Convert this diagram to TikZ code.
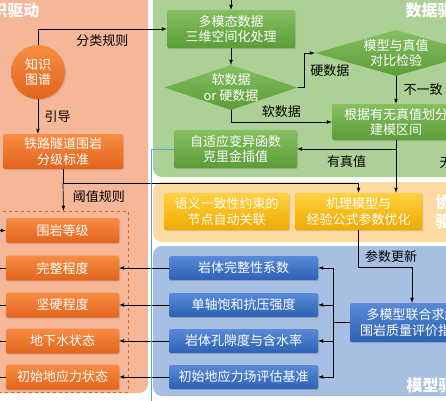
\documentclass[tikz,border=0pt]{standalone}
\usepackage{fontspec}
\setmainfont{Noto Sans CJK SC}
\usetikzlibrary{shapes.geometric,shadows}
\definecolor{kpanel}{RGB}{246,182,152}
\definecolor{dpanel}{RGB}{172,208,150}
\definecolor{cpanel}{RGB}{252,218,160}
\definecolor{mpanel}{RGB}{166,191,226}
\definecolor{otop}{RGB}{248,140,68}
\definecolor{obot}{RGB}{226,100,28}
\definecolor{gtop}{RGB}{132,192,96}
\definecolor{gbot}{RGB}{92,156,56}
\definecolor{ytop}{RGB}{255,208,64}
\definecolor{ybot}{RGB}{240,170,0}
\definecolor{btop}{RGB}{88,138,216}
\definecolor{bbot}{RGB}{46,96,180}
\definecolor{cyanln}{RGB}{75,172,210}
\begin{document}
\begin{tikzpicture}[x=1pt,y=-1pt,font=\fontsize{13}{15.5}\selectfont]
  \tikzstyle{panel}=[rounded corners=9pt]
  \tikzstyle{title}=[text=white,font=\fontsize{16}{19}\selectfont\bfseries,align=left]
  \tikzstyle{box}=[rectangle,rounded corners=1.5pt,align=center,inner sep=0pt,text=white,
    drop shadow={opacity=0.3,shadow xshift=1.2pt,shadow yshift=-1.2pt}]
  \tikzstyle{obox}=[box,top color=otop,bottom color=obot]
  \tikzstyle{gbox}=[box,top color=gtop,bottom color=gbot]
  \tikzstyle{ybox}=[box,top color=ytop,bottom color=ybot]
  \tikzstyle{bbox}=[box,top color=btop,bottom color=bbot]
  \tikzstyle{gdia}=[diamond,align=center,inner sep=-3pt,text=white,top color=gtop,bottom color=gbot]
  \tikzstyle{arr}=[-latex,line width=0.7pt]
  \tikzstyle{ln}=[line width=0.7pt]
  \useasboundingbox (0,0) rectangle (446,400);
  \clip (0,0) rectangle (446,400);
  \fill[white] (0,0) rectangle (446,400);
  \fill[panel,kpanel] (-20,-20) rectangle (148,393);
  \fill[panel,dpanel] (153,-8) rectangle (480,177);
  \fill[panel,cpanel] (153,182) rectangle (480,242);
  \fill[panel,mpanel] (153,246) rectangle (480,396);
  \node[title,anchor=east] (tkn) at (43,10) {知识驱动};
  \node[title,anchor=west] (tdt) at (402,10) {数据驱动};
  \node[title,anchor=west] (tco) at (432,212) {协同\\驱动};
  \node[title,anchor=west] (tmd) at (403,385) {模型驱动};

  \node[circle,minimum size=54pt,inner sep=0pt,align=center,text=white,top color=otop,bottom color=obot,
    drop shadow={opacity=0.3,shadow xshift=1.2pt,shadow yshift=-1.2pt}] (kg) at (38,72) {知识\\图谱};
  \node[obox,minimum width=120pt,minimum height=35pt] (std) at (63,151.5) {铁路隧道围岩\\分级标准};
  \node[draw=obot,dashed,line width=0.5pt,minimum width=129pt,minimum height=181pt] (grp) at (63.5,301.5) {};
  \foreach \i/\y/\t in {0/230.5/围岩等级,1/268/完整程度,2/305/坚硬程度,3/341/地下水状态,4/377/初始地应力状态}
    \node[obox,minimum width=113pt,minimum height=25pt] (o\i) at (62.5,\y) {\t};

  \node[gbox,minimum width=128pt,minimum height=38pt] (mmd) at (231,29) {多模态数据\\三维空间化处理};
  \node[gdia,aspect=2.95,minimum width=133pt,minimum height=45pt] (sd) at (231,87.5) {软数据\\or 硬数据};
  \node[gdia,aspect=3.5,minimum width=162pt,minimum height=46pt] (md) at (396,53) {模型与真值\\对比检验};
  \node[gbox,minimum width=128pt,minimum height=36pt] (gz) at (396,122) {根据有无真值划分\\建模区间};
  \node[gbox,minimum width=123pt,minimum height=38pt] (zs) at (235.5,149) {自适应变异函数\\克里金插值};
  \node[ybox,minimum width=125pt,minimum height=37pt] (yy) at (226.5,211.5) {语义一致性约束的\\节点自动关联};
  \node[ybox,minimum width=127pt,minimum height=37pt] (jl) at (358.5,211.5) {机理模型与\\经验公式参数优化};
  \foreach \i/\y/\t in {1/268/岩体完整性系数,2/305/单轴饱和抗压强度,3/341/岩体孔隙度与含水率,4/377/初始地应力场评估基准}
    \node[bbox,minimum width=149pt,minimum height=24pt] (b\i) at (243.5,\y) {\t};
  \node[bbox,minimum width=124pt,minimum height=39pt] (mm) at (412,322.5) {多模型联合求解\\围岩质量评价指标};

  \draw[arr] (kg.north) |- (mmd.west) node[pos=0.75,below=2pt] {分类规则};
  \draw[arr] (kg.south) -- (kg.south |- std.north) node[midway,right=3pt] {引导};
  \draw[ln] (std.south) -- ++(0,14) coordinate (th);
  \draw[arr] (th) -- (grp.north) node[midway,right=6pt] {阈值规则};
  \draw[arr] (th) -| (jl.north);
  \coordinate (lin) at (-10,230.5);
  \draw[arr] (lin) -- (o0.west);
  \foreach \i in {1,...,4} {
    \draw[ln] (o\i.west) -- ++(-20,0);
    \draw[arr] (b\i.west) -- (o\i.east);
  }
  \coordinate (bus) at (333,322.5);
  \draw[ln] (mm.west) -- (bus);
  \foreach \i in {1,...,4}
    \draw[arr] (bus) |- (b\i.east);
  \draw[arr] (jl.south) -- ++(0,37) -| (mm.north);
  \node (lbupd) at (391,257) {参数更新};

  \coordinate (top) at (231,-10);
  \draw[arr] (top) -- (mmd.north);
  \draw[arr] (mmd.south) -- (sd.north);
  \draw[arr] (sd.east) -- ++(7,0) |- (md.west) node[pos=0.25,right=2pt] {硬数据};
  \draw[arr] (md.south) -- (gz.north) node[midway,right=4pt] {不一致};
  \draw[arr] (sd.south) |- (gz.west) node[pos=0.75,above=1pt] {软数据};
  \draw[arr] (gz.south) -- (gz.south |- jl.north);
  \draw[arr] (gz.south |- zs.east) -- (zs.east) node[midway,below=3pt] {有真值};
  \node[anchor=west] (lbnt) at (436,163) {无真值};
  \draw[cyanln,line width=0.7pt] (zs.west) -- ++(-22,0) coordinate (cy) -- ++(0,280);
\end{tikzpicture}
\end{document}
